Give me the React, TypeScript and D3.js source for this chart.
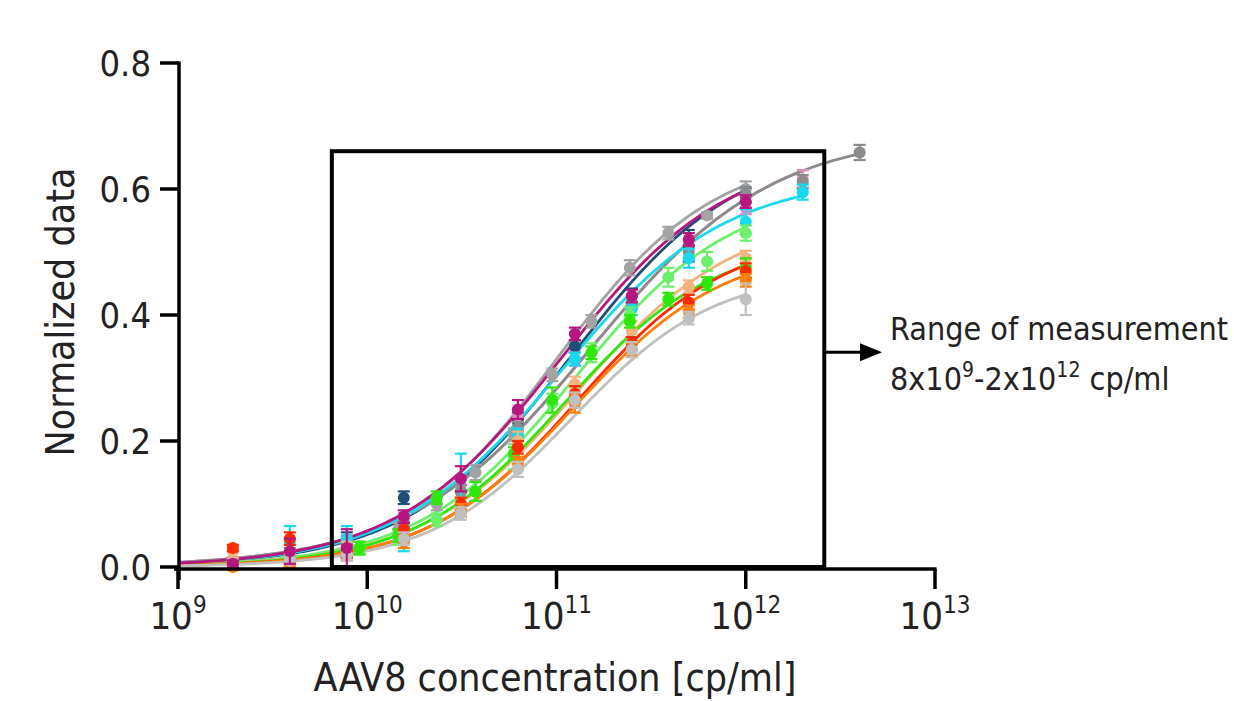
import React from "react";
import * as d3 from "d3";

// dilution series (cp/ml)
const xsA = [1.95e9, 3.9e9, 7.8e9, 1.56e10, 3.125e10, 6.25e10, 1.25e11, 2.5e11, 5e11, 1e12, 2e12, 4e12];
const xsB = [9.1e9, 1.46e10, 2.33e10, 3.73e10, 5.96e10, 9.5e10, 1.53e11, 2.44e11, 3.9e11, 6.25e11, 1e12];

const yTicks = [0, 0.2, 0.4, 0.6, 0.8];
const xTickExp = [9, 10, 11, 12, 13];

// name, color, x set, means, sd, 4PL fit [top, ec50, hill]
const series = [
  { name: "s1", color: "#a3a3a3", xs: xsB,
    y: [0.03, 0.06, 0.1, 0.15, 0.21, 0.305, 0.39, 0.475, 0.53, 0.558, 0.6],
    err: [0.01, 0.01, 0.01, 0.012, 0.01, 0.01, 0.01, 0.012, 0.01, 0.005, 0.012],
    fit: [0.66, 1.0e11, 1.05] },
  { name: "s2", color: "#1f4e79", xs: xsA,
    y: [0.005, 0.02, 0.035, 0.11, 0.12, 0.23, 0.35, 0.43, 0.51, 0.59],
    err: [0.005, 0.01, 0.02, 0.01, 0.02, 0.015, 0.01, 0.012, 0.025, 0.012],
    fit: [0.67, 1.2e11, 1.0] },
  { name: "s4", color: "#e38cc4", xs: xsA,
    y: [0.01, 0.02, 0.035, 0.075, 0.13, 0.24, 0.33, 0.42, 0.52, 0.57, 0.615],
    err: [0.005, 0.01, 0.01, 0.01, 0.01, 0.01, 0.01, 0.01, 0.01, 0.01, 0.015],
    fit: [0.69, 1.5e11, 0.9] },
  { name: "s5", color: "#8c8c8c", xs: xsA,
    y: [0.01, 0.015, 0.04, 0.07, 0.12, 0.22, 0.33, 0.42, 0.5, 0.59, 0.612, 0.658],
    err: [0.005, 0.01, 0.01, 0.01, 0.01, 0.01, 0.01, 0.01, 0.01, 0.012, 0.01, 0.012],
    fit: [0.69, 1.5e11, 0.9] },
  { name: "s6", color: "#19d9ef", xs: xsA,
    y: [0.005, 0.04, 0.045, 0.04, 0.14, 0.21, 0.33, 0.41, 0.49, 0.548, 0.595],
    err: [0.005, 0.025, 0.02, 0.015, 0.04, 0.01, 0.01, 0.01, 0.015, 0.02, 0.012],
    fit: [0.62, 1.05e11, 1.0] },
  { name: "s7", color: "#6bf06b", xs: xsB,
    y: [0.03, 0.045, 0.075, 0.12, 0.175, 0.26, 0.34, 0.4, 0.46, 0.485, 0.53],
    err: [0.01, 0.01, 0.01, 0.015, 0.02, 0.015, 0.015, 0.012, 0.015, 0.015, 0.012],
    fit: [0.6, 1.25e11, 1.05] },
  { name: "s8", color: "#f3b37f", xs: xsA,
    y: [0.025, 0.01, 0.03, 0.05, 0.1, 0.2, 0.29, 0.375, 0.445, 0.49],
    err: [0.01, 0.01, 0.01, 0.01, 0.01, 0.015, 0.012, 0.015, 0.01, 0.012],
    fit: [0.56, 1.3e11, 1.05] },
  { name: "s9", color: "#2ee80a", xs: xsB,
    y: [0.03, 0.05, 0.11, 0.12, 0.18, 0.265, 0.34, 0.39, 0.425, 0.45, 0.475],
    err: [0.01, 0.01, 0.01, 0.015, 0.01, 0.02, 0.01, 0.01, 0.01, 0.01, 0.015],
    fit: [0.52, 1.1e11, 1.1] },
  { name: "s10", color: "#ff2a00", xs: xsA,
    y: [0.03, 0.045, 0.025, 0.06, 0.1, 0.19, 0.275, 0.355, 0.42, 0.47],
    err: [0.005, 0.01, 0.01, 0.01, 0.01, 0.01, 0.012, 0.01, 0.012, 0.012],
    fit: [0.53, 1.3e11, 1.1] },
  { name: "s11", color: "#ff7f0e", xs: xsA,
    y: [0.0, 0.005, 0.02, 0.04, 0.09, 0.165, 0.26, 0.345, 0.405, 0.455],
    err: [0.005, 0.005, 0.01, 0.01, 0.01, 0.01, 0.015, 0.01, 0.01, 0.01],
    fit: [0.51, 1.25e11, 1.1] },
  { name: "s12", color: "#c0c0c0", xs: xsA,
    y: [0.005, 0.01, 0.02, 0.045, 0.085, 0.155, 0.265, 0.345, 0.395, 0.425],
    err: [0.005, 0.005, 0.01, 0.01, 0.01, 0.012, 0.012, 0.012, 0.01, 0.025],
    fit: [0.47, 1.2e11, 1.15] },
  { name: "s3", color: "#b5177f", xs: xsA,
    y: [0.005, 0.025, 0.03, 0.08, 0.14, 0.25, 0.37, 0.43, 0.52, 0.58],
    err: [0.005, 0.02, 0.03, 0.01, 0.02, 0.015, 0.01, 0.01, 0.01, 0.01],
    fit: [0.66, 1.05e11, 1.0] },
];

// measuring range box
const boxX = [6.5e9, 2.6e12];
const boxTop = 0.66;
const arrowY = 0.341;

const FONT = "'DejaVu Sans Condensed', 'Liberation Sans Narrow', sans-serif";

const W = 1234;
const H = 701;

export default function App() {
  const x = d3.scaleLog().domain([1e9, 1e13]).range([178, 935]);
  const y = d3.scaleLinear().domain([0, 0.8]).range([567, 63]);

  const logX = d3.range(9, 12.61, 0.02).map((e) => Math.pow(10, e));
  const line = d3
    .line<number[]>()
    .x((d) => x(d[0]))
    .y((d) => y(d[1]));

  const fitCurve = (s: any) => {
    const [top, ec, h] = s.fit;
    const maxX = s.xs[s.y.length - 1];
    const pts = logX.filter((v) => v <= maxX * 1.001).map((v) => [v, top / (1 + Math.pow(ec / v, h))]);
    return line(pts as any);
  };

  return (
    <svg width={W} height={H} style={{ position: "absolute", left: 0, top: 0, background: "#fff" }} fontFamily={FONT}>
      {/* fitted curves */}
      {series.map((s) => (
        <path key={s.name + "c"} d={fitCurve(s) || ""} fill="none" stroke={s.color} strokeWidth={2.8} />
      ))}
      {/* error bars + points */}
      {series.map((s) => (
        <g key={s.name + "p"} stroke={s.color} fill={s.color}>
          {s.y.map((v, i) => {
            const cx = x(s.xs[i]);
            const e = s.err[i];
            return (
              <g key={i}>
                <line x1={cx} x2={cx} y1={y(v - e)} y2={y(v + e)} strokeWidth={2.2} />
                <line x1={cx - 6} x2={cx + 6} y1={y(v - e)} y2={y(v - e)} strokeWidth={2.2} />
                <line x1={cx - 6} x2={cx + 6} y1={y(v + e)} y2={y(v + e)} strokeWidth={2.2} />
                <circle cx={cx} cy={y(v)} r={6} stroke="none" />
              </g>
            );
          })}
        </g>
      ))}

      {/* box */}
      <rect
        x={x(boxX[0])}
        y={y(boxTop)}
        width={x(boxX[1]) - x(boxX[0])}
        height={y(0) - y(boxTop)}
        fill="none"
        stroke="#000"
        strokeWidth={4}
      />
      <line x1={x(boxX[1])} x2={864} y1={y(arrowY)} y2={y(arrowY)} stroke="#000" strokeWidth={3} />
      <path d={`M860,${y(arrowY) - 9} L882,${y(arrowY)} L860,${y(arrowY) + 9} Z`} fill="#000" />
      <text x={890} y={340} fontSize={32} fill="#222">Range of measurement</text>
      <text x={890} y={390} fontSize={32} fill="#222">
        8x10<tspan dy={-13} fontSize={21}>9</tspan>
        <tspan dy={13}>-2x10</tspan>
        <tspan dy={-13} fontSize={21}>12</tspan>
        <tspan dy={13}> cp/ml</tspan>
      </text>

      {/* y axis */}
      <line x1={179} x2={179} y1={y(0.8) - 1.5} y2={580} stroke="#000" strokeWidth={3.5} />
      {yTicks.map((t) => (
        <g key={t}>
          <line x1={160} x2={179} y1={y(t)} y2={y(t)} stroke="#000" strokeWidth={3.5} />
          <text x={151} y={y(t)} dy="0.36em" textAnchor="end" fontSize={36} fill="#222">
            {t.toFixed(1)}
          </text>
        </g>
      ))}
      <text transform={`translate(74,312) rotate(-90)`} textAnchor="middle" fontSize={39} fill="#222">
        Normalized data
      </text>

      {/* x axis */}
      <line x1={174} x2={x(1e13) + 1.5} y1={569} y2={569} stroke="#000" strokeWidth={3.5} />
      {xTickExp.map((e) => (
        <g key={e}>
          <line x1={x(Math.pow(10, e))} x2={x(Math.pow(10, e))} y1={569} y2={589} stroke="#000" strokeWidth={3.5} />
          <text x={x(Math.pow(10, e))} y={629} textAnchor="middle" fontSize={38} fill="#222">
            10<tspan dy={-16} fontSize={24}>{e}</tspan>
          </text>
        </g>
      ))}
      <text x={555} y={691} textAnchor="middle" fontSize={39} fill="#222">
        AAV8 concentration [cp/ml]
      </text>
    </svg>
  );
}
